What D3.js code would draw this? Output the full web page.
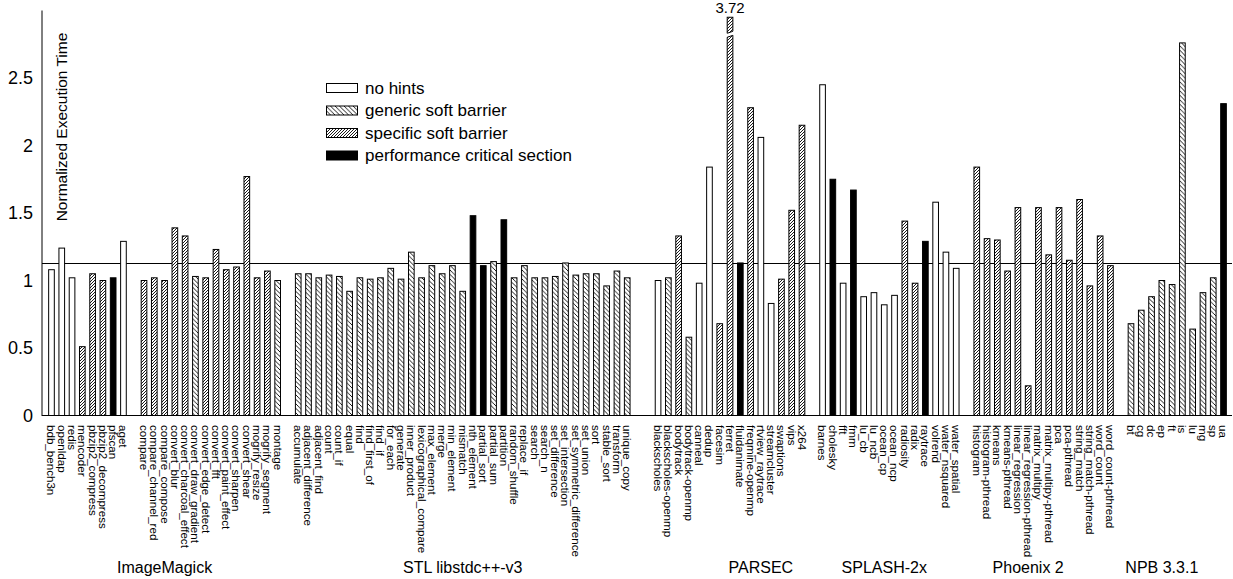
<!DOCTYPE html>
<html>
<head>
<meta charset="utf-8">
<script src="https://cdn.jsdelivr.net/npm/d3@7"></script>
<style>
  html, body { margin: 0; padding: 0; background: #fff; }
  svg { display: block; font-family: "Liberation Sans", Arial, Helvetica, sans-serif; }
</style>
</head>
<body>
<svg id="chart" width="1233" height="579"></svg>
<script>
// hint kinds: 0 = no hints, 1 = generic soft barrier, 2 = specific soft barrier, 3 = performance critical section
var hintLabels = ['no hints', 'generic soft barrier', 'specific soft barrier', 'performance critical section'];

var miscBench = ['bdb_bench3n', 'openldap', 'redis', 'mencoder', 'pbzip2_compress', 'pbzip2_decompress', 'pfscan', 'aget'];
var miscTime  = [1.08, 1.24, 1.02, 0.51, 1.05, 1.00, 1.02, 1.29];
var miscHint  = [0, 0, 0, 2, 2, 2, 3, 0];

var imBench = ['compare', 'compare_channel_red', 'compare_compose', 'convert_blur', 'convert_charcoal_effect',
  'convert_draw_gradient', 'convert_edge_detect', 'convert_fft', 'convert_paint_effect', 'convert_sharpen',
  'convert_shear', 'mogrify_resize', 'mogrify_segment', 'montage'];
var imTime = [1.00, 1.02, 1.00, 1.39, 1.33, 1.03, 1.02, 1.23, 1.08, 1.10, 1.77, 1.02, 1.07, 1.00];
var imHint = [2, 2, 2, 2, 2, 1, 2, 2, 2, 2, 2, 2, 2, 1];

var stlBench = ['accumulate', 'adjacent_difference', 'adjacent_find', 'count', 'count_if', 'equal', 'find',
  'find_first_of', 'find_if', 'for_each', 'generate', 'inner_product', 'lexicographical_compare', 'max_element',
  'merge', 'min_element', 'mismatch', 'nth_element', 'partial_sort', 'partial_sum', 'partition', 'random_shuffle',
  'replace_if', 'search', 'search_n', 'set_difference', 'set_intersection', 'set_symmetric_difference', 'set_union',
  'sort', 'stable_sort', 'transform', 'unique_copy'];
var stlTime = [1.05, 1.05, 1.02, 1.04, 1.03, 0.92, 1.02, 1.01, 1.02, 1.09, 1.01, 1.21, 1.02, 1.11,
  1.05, 1.11, 0.92, 1.48, 1.11, 1.14, 1.45, 1.02, 1.11, 1.02, 1.02, 1.03, 1.13, 1.04, 1.05,
  1.05, 0.96, 1.07, 1.02];
var stlHint = [1, 1, 1, 1, 1, 1, 1, 1, 1, 1, 1, 1, 1, 1,
  1, 1, 1, 3, 3, 1, 3, 1, 1, 1, 1, 1, 1, 1, 1,
  1, 1, 1, 1];

var parsecBench = ['blackscholes', 'blackscholes-openmp', 'bodytrack', 'bodytrack-openmp', 'canneal', 'dedup',
  'facesim', 'ferret', 'fluidanimate', 'freqmine-openmp', 'rtview_raytrace', 'streamcluster', 'swaptions', 'vips', 'x264'];
var parsecTime = [1.00, 1.02, 1.33, 0.58, 0.98, 1.84, 0.68, 3.72, 1.13, 2.28, 2.06, 0.83, 1.01, 1.52, 2.15];
var parsecHint = [0, 1, 2, 1, 0, 0, 2, 2, 3, 2, 0, 0, 2, 2, 2];

var splashBench = ['barnes', 'cholesky', 'fft', 'fmm', 'lu_cb', 'lu_ncb', 'ocean_cp', 'ocean_ncp', 'radiosity',
  'radix', 'raytrace', 'volrend', 'water_nsquared', 'water_spatial'];
var splashTime = [2.45, 1.75, 0.98, 1.67, 0.88, 0.91, 0.82, 0.89, 1.44, 0.98, 1.29, 1.58, 1.21, 1.09];
var splashHint = [0, 3, 0, 3, 0, 0, 0, 0, 2, 2, 3, 0, 0, 0];

var phoenixBench = ['histogram', 'histogram-pthread', 'kmeans', 'kmeans-pthread', 'linear_regression',
  'linear_regression-pthread', 'matrix_multipy', 'matrix_multipy-pthread', 'pca', 'pca-pthread', 'string_match',
  'string_match-pthread', 'word_count', 'word_count-pthread'];
var phoenixTime = [1.84, 1.31, 1.30, 1.07, 1.54, 0.22, 1.54, 1.19, 1.54, 1.15, 1.60, 0.96, 1.33, 1.11];
var phoenixHint = [2, 2, 2, 2, 2, 2, 2, 2, 2, 2, 2, 2, 2, 2];

var npbBench = ['bt', 'cg', 'dc', 'ep', 'ft', 'is', 'lu', 'mg', 'sp', 'ua'];
var npbTime  = [0.68, 0.78, 0.88, 1.00, 0.97, 2.76, 0.64, 0.91, 1.02, 2.31];
var npbHint  = [1, 1, 1, 1, 1, 1, 1, 1, 1, 3];

var suiteNames = ['', 'ImageMagick', 'STL libstdc++-v3', 'PARSEC', 'SPLASH-2x', 'Phoenix 2', 'NPB 3.3.1'];
// benchmark each suite name is written under
var suiteLabelAt = ['', 'compare_compose', 'mismatch', 'rtview_raytrace', 'ocean_cp', 'linear_regression-pthread', 'ep'];

var yTicks = [0, 0.5, 1, 1.5, 2, 2.5];
var threshold = 1.13;

// ---- layout ----
var plotLeft = 42, plotRight = 1232, plotTop = 10.5, plotBase = 415.5;
var yMax = 3, clipAt = 2.95;
var gapAfter = [1, 1, 2, 1, 1, 1];

var suites = [
  { bench: miscBench, time: miscTime, hint: miscHint },
  { bench: imBench, time: imTime, hint: imHint },
  { bench: stlBench, time: stlTime, hint: stlHint },
  { bench: parsecBench, time: parsecTime, hint: parsecHint },
  { bench: splashBench, time: splashTime, hint: splashHint },
  { bench: phoenixBench, time: phoenixTime, hint: phoenixHint },
  { bench: npbBench, time: npbTime, hint: npbHint }
];

var slots = [];
suites.forEach(function (s, i) {
  s.bench.forEach(function (b, j) {
    slots.push({ key: b, value: s.time[j], hint: s.hint[j] });
  });
  for (var g = 0; g < (gapAfter[i] || 0); g++) slots.push({ key: '_gap' + i + '_' + g, gap: true });
});
var bars = slots.filter(function (d) { return !d.gap; });

var svg = d3.select('#chart');

var x = d3.scaleBand()
  .domain(slots.map(function (d) { return d.key; }))
  .range([plotLeft + 1, plotRight])
  .paddingInner(0.45)
  .paddingOuter(0.55);

var y = d3.scaleLinear().domain([0, yMax]).range([plotBase, plotTop]);

// hatch patterns
var defs = svg.append('defs');
var genP = defs.append('pattern').attr('id', 'hatch-generic')
  .attr('patternUnits', 'userSpaceOnUse').attr('width', 4.5).attr('height', 4.5);
genP.append('rect').attr('width', 4.5).attr('height', 4.5).attr('fill', '#fff');
genP.append('path').attr('d', 'M-1,-1L5.5,5.5M-1,3.5L1,5.5M3.5,-1L5.5,1')
  .attr('stroke', '#000').attr('stroke-width', 0.9);

var speP = defs.append('pattern').attr('id', 'hatch-specific')
  .attr('patternUnits', 'userSpaceOnUse').attr('width', 3).attr('height', 3);
speP.append('rect').attr('width', 3).attr('height', 3).attr('fill', '#fff');
speP.append('path').attr('d', 'M-1,4L4,-1M-1,1L1,-1M2,4L4,2')
  .attr('stroke', '#000').attr('stroke-width', 0.9);

var fills = ['#fff', 'url(#hatch-generic)', 'url(#hatch-specific)', '#000'];

// reference line
svg.append('line')
  .attr('x1', plotLeft).attr('x2', plotRight)
  .attr('y1', Math.round(y(threshold)) + 0.5).attr('y2', Math.round(y(threshold)) + 0.5)
  .attr('stroke', '#000').attr('stroke-width', 1);

// bars
svg.selectAll('rect.bar')
  .data(bars)
  .enter()
  .append('rect')
  .attr('class', 'bar')
  .attr('x', function (d) { return x(d.key); })
  .attr('width', x.bandwidth())
  .attr('y', function (d) { return y(Math.min(d.value, clipAt)); })
  .attr('height', function (d) { return plotBase - y(Math.min(d.value, clipAt)); })
  .attr('fill', function (d) { return fills[d.hint]; })
  .attr('stroke', '#000')
  .attr('stroke-width', 1);

// broken bars (value beyond the axis)
var broken = bars.filter(function (d) { return d.value > yMax; });
broken.forEach(function (d) {
  var bx = x(d.key), bw = x.bandwidth();
  var yb = y(2.82);
  svg.append('polygon')
    .attr('points', [[bx - 2, yb + 3], [bx + bw + 2, yb], [bx + bw + 2, yb - 4], [bx - 2, yb - 1]].join(' '))
    .attr('fill', '#fff');
  svg.append('line').attr('x1', bx).attr('y1', yb + 2.5).attr('x2', bx + bw).attr('y2', yb + 0.5)
    .attr('stroke', '#000').attr('stroke-width', 1);
  svg.append('line').attr('x1', bx).attr('y1', yb - 1.5).attr('x2', bx + bw).attr('y2', yb - 3.5)
    .attr('stroke', '#000').attr('stroke-width', 1);
  svg.append('text')
    .attr('x', bx + bw / 2).attr('y', 13)
    .attr('text-anchor', 'middle')
    .attr('font-size', '15px')
    .text(d.value.toFixed(2));
});

// axes
svg.append('line').attr('x1', plotLeft).attr('x2', plotLeft).attr('y1', plotTop).attr('y2', plotBase + 0.5)
  .attr('stroke', '#000').attr('stroke-width', 1);
svg.append('line').attr('x1', plotLeft).attr('x2', plotRight).attr('y1', plotBase).attr('y2', plotBase)
  .attr('stroke', '#000').attr('stroke-width', 1);

var yAxis = svg.append('g')
  .attr('transform', 'translate(' + plotLeft + ',0)')
  .call(d3.axisLeft(y).tickValues(yTicks).tickSize(0).tickPadding(9).tickFormat(function (v) { return String(v); }));
yAxis.select('.domain').remove();
yAxis.selectAll('text').attr('font-size', '18px').attr('font-family', null).attr('fill', '#000');

svg.append('text')
  .attr('transform', 'translate(67,127) rotate(-90)')
  .attr('text-anchor', 'middle')
  .attr('font-size', '15.5px')
  .text('Normalized Execution Time');

// benchmark names
svg.selectAll('text.bench')
  .data(bars)
  .enter()
  .append('text')
  .attr('class', 'bench')
  .attr('transform', function (d) {
    return 'translate(' + (x(d.key) + x.bandwidth() / 2) + ',425) rotate(90)';
  })
  .attr('dy', '0.35em')
  .attr('font-size', '11.6px')
  .text(function (d) { return d.key; });

// suite names
suiteNames.forEach(function (name, i) {
  if (!name) return;
  svg.append('text')
    .attr('x', x(suiteLabelAt[i]) + x.bandwidth() / 2)
    .attr('y', 573)
    .attr('text-anchor', 'middle')
    .attr('font-size', '16px')
    .text(name);
});

// legend
var legend = svg.append('g').attr('transform', 'translate(326,88)');
var rows = legend.selectAll('g').data(hintLabels).enter().append('g')
  .attr('transform', function (d, i) { return 'translate(0,' + (i * 22.5) + ')'; });
rows.append('rect')
  .attr('x', 0.5).attr('y', -4.5).attr('width', 31).attr('height', 9)
  .attr('fill', function (d, i) { return fills[i]; })
  .attr('stroke', '#000').attr('stroke-width', 1);
rows.append('text')
  .attr('x', 39).attr('dy', '0.35em')
  .attr('font-size', '17px')
  .text(function (d) { return d; });
</script>
</body>
</html>
